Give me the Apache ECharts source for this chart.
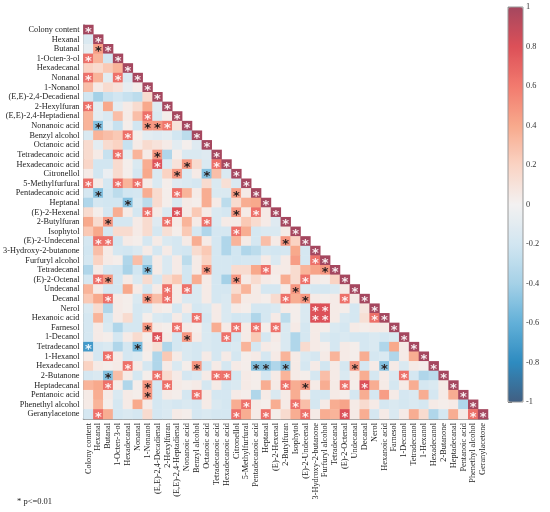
<!DOCTYPE html>
<html>
<head>
<meta charset="utf-8">
<script src="https://cdn.jsdelivr.net/npm/echarts@6/dist/echarts.min.js"></script>
<style>
  html, body { margin: 0; padding: 0; background: #fff; }
  #chart { width: 550px; height: 512px; }
</style>
</head>
<body>
<div id="chart"></div>
<script>
// variable names, same order on both axes
var labels = ['Colony content', 'Hexanal', 'Butanal', '1-Octen-3-ol', 'Hexadecanal', 'Nonanal', '1-Nonanol',
  '(E,E)-2,4-Decadienal', '2-Hexylfuran', '(E,E)-2,4-Heptadienal', 'Nonanoic acid', 'Benzyl alcohol',
  'Octanoic acid', 'Tetradecanoic acid', 'Hexadecanoic acid', 'Citronellol', '5-Methylfurfural',
  'Pentadecanoic acid', 'Heptanal', '(E)-2-Hexenal', '2-Butylfuran', 'Isophytol', '(E)-2-Undecenal',
  '3-Hydroxy-2-butanone', 'Furfuryl alcohol', 'Tetradecanal', '(E)-2-Octenal', 'Undecanal', 'Decanal',
  'Nerol', 'Hexanoic acid', 'Farnesol', '1-Decanol', 'Tetradecanol', '1-Hexanol', 'Hexadecanol',
  '2-Butanone', 'Heptadecanal', 'Pentanoic acid', 'Phenethyl alcohol', 'Geranylacetone'];

// lower triangle of the correlation matrix, row by row
var corrRows = [
  [1],
  [-0.15, 1],
  [-0.08, 0.45, 1],
  [0.65, 0.35, -0.2, 1],
  [0.2, 0.15, 0.25, 0.35, 1],
  [0.65, 0.35, -0.1, 0.65, -0.15, 1],
  [0.3, 0.05, 0.15, 0.1, -0.08, 0.03, 1],
  [-0.2, -0.4, -0.25, -0.2, -0.25, -0.3, 0.15, 1],
  [0.65, -0.1, 0.4, -0.1, 0.05, 0.15, 0.4, -0.12, 1],
  [0.35, -0.1, -0.15, 0.3, 0.05, 0.3, 0.65, -0.15, 0.03, 1],
  [0.35, -0.5, -0.1, -0.25, 0.03, -0.2, 0.48, 0.48, 0.62, 0.1, 1],
  [-0.15, 0.35, 0.3, 0.25, 0.65, 0.03, -0.1, -0.12, -0.1, -0.2, -0.3, 1],
  [0.15, -0.1, 0.15, 0.2, -0.25, 0.05, 0.15, 0.1, 0.05, -0.1, 0.02, -0.12, 1],
  [0.15, 0.05, -0.25, 0.65, -0.1, 0.35, 0.05, 0.48, -0.35, 0.03, -0.15, -0.15, -0.12, 1],
  [0.18, -0.2, -0.2, 0.15, 0.03, -0.15, 0.38, 0.78, -0.15, 0.1, 0.48, 0.15, -0.15, 0.65, 1],
  [0.05, -0.2, -0.05, 0.15, 0.03, -0.18, 0.4, -0.15, 0.2, 0.48, -0.15, 0.05, -0.5, 0.3, -0.15, 1],
  [0.65, 0.05, -0.18, 0.65, 0.35, 0.65, 0.05, -0.15, 0.03, -0.12, -0.15, -0.18, 0.15, -0.15, 0.12, -0.15, 1],
  [-0.18, -0.5, -0.2, -0.3, -0.2, -0.18, 0.38, 0.15, 0.03, 0.65, 0.35, 0.05, 0.38, -0.15, -0.15, 0.45, 0.05, 1],
  [-0.35, -0.18, -0.2, -0.2, -0.5, -0.15, -0.3, 0.15, 0.03, -0.15, 0.05, 0.03, 0.38, 0.05, -0.3, 0.15, 0.38, 0.4, 1],
  [0.15, 0.03, -0.18, 0.38, 0.05, -0.18, 0.65, 0.05, -0.15, 0.8, 0.05, 0.25, 0.05, -0.15, -0.18, 0.48, 0.05, 0.65, 0.05, 1],
  [0.4, 0.15, 0.48, -0.18, -0.18, 0.05, 0.15, -0.12, 0.65, 0.05, 0.35, 0.05, 0.65, -0.15, 0.05, 0.05, 0.25, 0.15, 0.05, -0.12, 1],
  [0.25, 0.4, -0.18, 0.15, 0.15, 0.05, 0.15, -0.18, 0.12, 0.03, 0.25, -0.18, -0.35, -0.18, -0.18, 0.65, 0.38, -0.18, -0.15, -0.15, 0.05, 1],
  [-0.18, 0.65, 0.65, -0.2, 0.05, 0.03, -0.18, 0.05, -0.15, -0.18, 0.05, 0.38, 0.05, -0.18, -0.35, 0.35, 0.05, -0.18, 0.3, 0.05, 0.48, 0.2, 1],
  [-0.2, 0.3, 0.05, -0.18, -0.2, -0.15, 0.05, -0.18, 0.05, -0.18, -0.2, 0.15, 0.25, -0.18, -0.35, -0.2, -0.35, -0.3, -0.18, -0.2, -0.18, 0.4, -0.18, 1],
  [-0.18, 0.2, 0.05, 0.03, -0.35, 0.3, -0.3, 0.05, -0.15, 0.05, -0.3, 0.05, 0.2, -0.18, -0.18, -0.2, -0.18, -0.18, 0.05, -0.15, 0.05, 0.45, -0.18, 0.65, 1],
  [-0.35, 0.05, -0.18, -0.2, -0.38, -0.2, -0.5, 0.05, -0.15, 0.05, -0.2, 0.05, 0.48, -0.18, -0.18, 0.15, 0.15, 0.4, 0.65, 0.05, 0.05, 0.15, 0.35, 0.42, 0.48, 1],
  [-0.18, 0.65, 0.48, -0.18, 0.05, -0.15, 0.15, -0.18, 0.15, 0.25, -0.2, 0.38, 0.05, -0.18, -0.4, 0.48, 0.05, 0.15, 0.05, 0.03, 0.38, 0.15, 0.65, 0.05, 0.03, 0.2, 1],
  [0.35, 0.05, -0.18, -0.18, 0.4, 0.05, -0.18, 0.05, 0.65, 0.05, 0.65, -0.15, 0.05, -0.18, -0.18, 0.15, 0.35, 0.05, -0.18, -0.18, 0.05, 0.48, -0.15, -0.18, -0.18, -0.15, 0.05, 1],
  [0.25, 0.4, 0.65, 0.05, 0.03, -0.15, 0.48, 0.3, 0.65, 0.05, -0.15, -0.15, 0.05, -0.18, -0.15, 0.3, 0.05, 0.05, 0.03, 0.15, 0.65, 0.38, 0.48, 0.05, 0.03, 0.05, 0.65, 0.05, 1],
  [-0.15, 0.15, -0.35, 0.05, 0.03, -0.18, -0.15, 0.05, 0.03, -0.18, 0.05, -0.18, -0.15, 0.05, -0.15, 0.05, 0.03, -0.18, -0.18, -0.15, 0.05, 0.03, -0.15, 0.8, 0.8, 0.05, 0.03, -0.18, 0.08, 1],
  [-0.18, 0.35, -0.18, 0.05, 0.15, -0.18, 0.03, -0.15, -0.18, 0.05, -0.15, 0.65, -0.18, 0.05, -0.15, -0.2, -0.18, -0.35, -0.18, 0.05, -0.3, 0.03, -0.15, 0.8, 0.8, 0.05, -0.15, -0.18, 0.12, 0.65, 1],
  [-0.18, 0.05, -0.15, -0.35, -0.18, -0.18, 0.48, 0.05, 0.03, 0.65, 0.05, 0.03, -0.15, 0.38, 0.05, 0.65, 0.05, 0.65, 0.03, 0.65, -0.15, 0.05, -0.18, 0.05, 0.03, -0.15, -0.18, 0.05, 0.03, 0.05, 0.05, 1],
  [-0.18, 0.05, 0.03, -0.18, 0.05, 0.15, 0.03, 0.8, 0.05, -0.18, 0.48, 0.05, -0.15, -0.18, 0.65, -0.18, 0.05, 0.25, -0.18, 0.05, -0.15, -0.35, -0.18, 0.05, -0.15, -0.18, -0.15, -0.18, -0.18, -0.15, -0.18, -0.15, 1],
  [-0.72, -0.18, -0.15, -0.35, -0.18, -0.55, 0.05, 0.12, -0.35, -0.18, -0.15, -0.18, -0.15, -0.18, -0.18, -0.15, 0.35, -0.18, 0.05, 0.03, -0.15, -0.35, 0.15, 0.05, 0.03, -0.18, 0.05, 0.03, -0.18, -0.15, -0.35, 0.4, 0.05, 1],
  [0.05, -0.18, 0.65, 0.05, -0.18, -0.15, 0.03, -0.35, 0.25, 0.05, -0.15, -0.18, 0.05, -0.18, 0.05, -0.18, 0.03, 0.05, -0.18, 0.05, 0.35, 0.05, -0.15, -0.18, 0.05, 0.35, 0.05, 0.03, 0.38, -0.18, -0.15, -0.35, 0.05, 0.38, 1],
  [0.2, 0.05, 0.03, 0.05, 0.65, 0.05, -0.18, -0.35, 0.05, -0.15, 0.03, 0.48, -0.18, 0.05, -0.18, 0.05, 0.03, -0.5, -0.5, -0.35, -0.5, 0.05, -0.18, 0.05, -0.2, 0.05, -0.18, 0.48, -0.18, 0.05, -0.5, 0.05, -0.15, 0.05, 0.03, 1],
  [-0.18, -0.15, -0.5, 0.3, 0.05, -0.18, 0.03, 0.65, 0.15, 0.05, -0.18, -0.15, 0.05, 0.65, 0.65, -0.18, 0.05, 0.03, -0.18, 0.05, 0.35, 0.05, 0.03, -0.18, 0.3, 0.05, -0.15, 0.05, 0.38, -0.18, 0.05, -0.15, 0.65, -0.18, -0.35, -0.3, 1],
  [0.35, 0.4, 0.65, 0.05, -0.35, 0.03, 0.48, -0.18, 0.65, 0.05, 0.03, 0.05, -0.18, 0.05, -0.18, -0.15, 0.05, 0.03, 0.38, 0.05, 0.65, 0.38, 0.48, 0.05, 0.38, 0.05, 0.65, 0.03, 0.8, 0.38, 0.05, -0.18, 0.05, 0.38, -0.18, -0.15, 0.05, 1],
  [0.05, 0.38, 0.05, -0.15, 0.05, 0.03, 0.48, -0.18, 0.05, 0.03, -0.18, 0.65, 0.05, -0.18, -0.18, 0.05, 0.03, -0.35, 0.05, -0.15, 0.05, 0.38, 0.05, -0.18, -0.18, 0.05, 0.03, -0.18, 0.38, -0.18, 0.45, 0.05, -0.18, -0.15, 0.38, -0.18, 0.05, 0.38, 1],
  [0.05, 0.35, 0.03, -0.18, 0.05, 0.4, 0.05, -0.18, -0.15, -0.18, -0.15, -0.18, 0.05, -0.15, -0.18, 0.38, 0.65, 0.05, 0.03, 0.38, 0.05, 0.65, 0.3, -0.18, 0.05, 0.38, 0.42, 0.05, 0.15, 0.05, -0.18, -0.15, -0.18, -0.15, -0.18, 0.05, 0.03, 0.05, -0.35, 1],
  [-0.18, 0.65, 0.38, -0.18, -0.15, -0.18, 0.15, -0.18, -0.15, 0.05, 0.03, -0.18, -0.15, -0.18, -0.18, 0.65, 0.38, 0.05, 0.65, 0.03, 0.15, 0.38, 0.65, 0.05, 0.38, 0.35, 0.8, 0.05, 0.38, -0.18, 0.05, -0.15, 0.05, 0.38, 0.15, -0.35, -0.18, 0.38, 0.05, 0.65, 1]
];

// cells marked with * (p <= 0.01), as [row, col]; the diagonal is always marked
var sigCells = [
  [2, 1], [3, 0], [5, 0], [5, 3], [8, 0], [9, 6], [10, 1], [10, 6], [10, 7], [10, 8], [11, 4],
  [13, 3], [13, 7], [14, 7], [14, 10], [14, 13], [15, 9], [15, 12], [16, 0], [16, 3], [16, 5],
  [17, 1], [17, 9], [17, 15], [18, 4], [19, 6], [19, 9], [19, 15], [19, 17], [20, 2], [20, 8], [20, 12],
  [21, 15], [22, 1], [22, 2], [22, 20], [24, 23], [25, 6], [25, 12], [25, 18], [25, 24],
  [26, 1], [26, 2], [26, 15], [26, 22], [27, 8], [27, 10], [27, 21],
  [28, 2], [28, 6], [28, 8], [28, 20], [28, 22], [28, 26], [29, 23], [29, 24],
  [30, 11], [30, 23], [30, 24], [30, 29], [31, 6], [31, 9], [31, 15], [31, 17], [31, 19],
  [32, 7], [32, 10], [32, 14], [33, 0], [33, 5], [34, 2],
  [35, 4], [35, 11], [35, 17], [35, 18], [35, 20], [35, 27], [35, 30],
  [36, 2], [36, 7], [36, 13], [36, 14], [36, 32],
  [37, 2], [37, 6], [37, 8], [37, 20], [37, 22], [37, 26], [37, 28], [38, 6], [38, 11],
  [39, 16], [39, 21], [40, 1], [40, 15], [40, 18], [40, 22], [40, 26], [40, 39]
];

// colour ramp from -1 to 1
var rampColors = ['#415f82', '#2e8bc0', '#62b0d8', '#a5d1e7', '#d2e6f1', '#f3f1f1',
  '#fad3c3', '#f8a98c', '#f27a6e', '#dc5058', '#a5475f'];
var barTicks = [-1, 1, 0.2]; // min, max, step of the colour bar scale

var sigSet = {};
sigCells.forEach(function (p) { sigSet[p[0] + '_' + p[1]] = true; });

var cells = [];
for (var r = 0; r < corrRows.length; r++) {
  for (var c = 0; c <= r; c++) {
    var v = corrRows[r][c];
    if (v === undefined) continue;
    var marked = r === c || sigSet[r + '_' + c];
    cells.push({
      value: [c, r, v],
      label: {
        show: !!marked,
        color: Math.abs(v) >= 0.6 ? 'rgba(255,255,255,0.9)' : '#2a2020'
      }
    });
  }
}

var chart = echarts.init(document.getElementById('chart'), null, { renderer: 'canvas' });
var serif = 'Liberation Serif';

var option = {
  backgroundColor: '#fff',
  animation: false,
  grid: [
    { left: 78, top: 25, width: 410, height: 394 },
    // dummy grid that only carries the colour bar scale
    { left: 508, top: 7, width: 15, height: 395, show: true, borderColor: '#999', borderWidth: 1, backgroundColor: 'transparent', z: 10 }
  ],
  xAxis: [
    {
      type: 'category', data: labels, gridIndex: 0,
      axisLine: { show: true, lineStyle: { color: '#777', width: 1.5 } },
      axisTick: { show: false },
      axisLabel: { rotate: 90, fontFamily: serif, fontSize: 8.3, color: '#222', margin: 4, interval: 0 },
      splitLine: { show: false }
    },
    { type: 'value', gridIndex: 1, show: false, min: 0, max: 1 }
  ],
  yAxis: [
    {
      type: 'category', data: labels, gridIndex: 0, inverse: true,
      axisLine: { show: true, lineStyle: { color: '#777', width: 1.5 } },
      axisTick: { show: false },
      axisLabel: { fontFamily: serif, fontSize: 8.3, color: '#222', margin: 4, interval: 0 },
      splitLine: { show: false }
    },
    {
      type: 'value', gridIndex: 1, position: 'right',
      min: barTicks[0], max: barTicks[1], interval: barTicks[2],
      axisLine: { show: false },
      axisTick: { show: true, inside: false, length: 4, lineStyle: { color: '#666' } },
      axisLabel: { fontFamily: serif, fontSize: 8.3, color: '#333', margin: 3 },
      splitLine: { show: false }
    }
  ],
  visualMap: {
    type: 'continuous',
    min: -1, max: 1,
    seriesIndex: 0,
    calculable: false,
    orient: 'vertical',
    left: 508, top: 7,
    itemWidth: 15, itemHeight: 395,
    padding: 0,
    text: ['', ''],
    showLabel: false,
    inRange: { color: rampColors }
  },
  series: [{
    type: 'heatmap',
    xAxisIndex: 0, yAxisIndex: 0,
    data: cells,
    label: {
      show: false,
      formatter: '*',
      fontFamily: 'DejaVu Sans',
      fontSize: 13,
      fontWeight: 'bold',
      offset: [0, 3]
    },
    emphasis: { disabled: true },
    itemStyle: { borderWidth: 0 }
  }],
  graphic: [{
    type: 'text', left: 17, top: 497,
    style: { text: '* p<=0.01', font: '8.5px "Liberation Serif"', fill: '#222' }
  }]
};
chart.setOption(option);
</script>
</body>
</html>
